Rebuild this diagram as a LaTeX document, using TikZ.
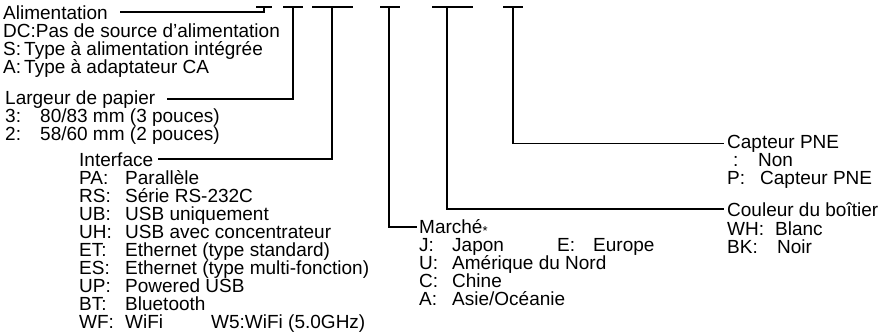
\documentclass[tikz,border=0pt]{standalone}
\usepackage{fontspec}
\setmainfont{Liberation Sans}
\usetikzlibrary{positioning}
\newcommand{\legfont}{\fontsize{19}{18}\selectfont}
\newcommand{\cd}[2]{\makebox[#1][l]{#2}}

\begin{document}
\begin{tikzpicture}[x=1pt, y=-1pt,
    lead/.style={line width=1.6pt},
    txt/.style={anchor=base west, inner sep=0pt, font=\legfont},
  ]
  \useasboundingbox (0,0) rectangle (886,335);

  % Brackets under the model code
  \foreach \a/\b in {256/272, 283/303, 312/353, 380/400, 432/473, 503/523}
    \draw[lead] (\a,7) -- (\b,7);
  \coordinate (alimbar) at (264,7);
  \coordinate (papbar) at (293,7);
  \coordinate (ifbar) at (332,7);
  \coordinate (mktbar) at (389,7);
  \coordinate (colbar) at (447,7);
  \coordinate (pnebar) at (513,7);

  % Alimentation
  \node[txt] (alim) at (3,19) {Alimentation};
  \node[txt] (alimdc) at (3,37) {DC:Pas de source d’alimentation};
  \node[txt] (alims) at (3,55) {\cd{21pt}{S:}Type à alimentation intégrée};
  \node[txt] (alima) at (3,73) {\cd{21pt}{A:}Type à adaptateur CA};

  % Largeur de papier
  \node[txt] (pap) at (5,104) {Largeur de papier};
  \node[txt] (pap3) at (5,122) {\cd{35pt}{3:}80/83 mm (3 pouces)};
  \node[txt] (pap2) at (5,140) {\cd{35pt}{2:}58/60 mm (2 pouces)};

  % Interface
  \node[txt] (iface) at (79,166) {Interface};
  \node[txt] (ifpa) at (79,184) {\cd{46pt}{PA:}Parallèle};
  \node[txt] (ifrs) at (79,202) {\cd{46pt}{RS:}Série RS-232C};
  \node[txt] (ifub) at (79,220) {\cd{46pt}{UB:}USB uniquement};
  \node[txt] (ifuh) at (79,238) {\cd{46pt}{UH:}USB avec concentrateur};
  \node[txt] (ifet) at (79,256) {\cd{46pt}{ET:}Ethernet (type standard)};
  \node[txt] (ifes) at (79,274) {\cd{46pt}{ES:}Ethernet (type multi-fonction)};
  \node[txt] (ifup) at (79,292) {\cd{46pt}{UP:}Powered USB};
  \node[txt] (ifbt) at (79,310) {\cd{46pt}{BT:}Bluetooth};
  \node[txt] (ifwf) at (79,328) {\cd{46pt}{WF:}\cd{86pt}{WiFi}W5:WiFi (5.0GHz)};

  % Marche
  \node[txt] (mkt) at (419,233) {Marché\raisebox{-2pt}{\fontsize{13}{13}\selectfont *}};
  \node[txt] (mktj) at (419,251) {\cd{33pt}{J:}\cd{105pt}{Japon}\cd{36pt}{E:}Europe};
  \node[txt] (mktu) at (419,269) {\cd{33pt}{U:}Amérique du Nord};
  \node[txt] (mktc) at (419,287) {\cd{33pt}{C:}Chine};
  \node[txt] (mkta) at (419,305) {\cd{33pt}{A:}Asie/Océanie};

  % Couleur du boitier
  \node[txt] (col) at (727,216) {Couleur du boîtier};
  \node[txt] (colwh) at (727,235) {\cd{48pt}{WH:}Blanc};
  \node[txt] (colbk) at (727,253) {\cd{50pt}{BK:}Noir};

  % Capteur PNE
  \node[txt] (pne) at (727,148) {Capteur PNE};
  \node[txt] (pnenon) at (727,166) {\cd{31pt}{\hspace{6pt}:}Non};
  \node[txt] (pnep) at (727,184) {\cd{33pt}{P:}Capteur PNE};

  % Leader lines
  \draw[lead] (alimbar) |- ([xshift=12pt]alim.east);
  \draw[lead] (papbar) |- ([xshift=12pt]pap.east);
  \draw[lead] (ifbar) |- ([xshift=5pt]iface.east);
  \draw[lead] (mktbar) |- ([xshift=-2pt]mkt.west);
  \draw[lead] (colbar) |- ([xshift=-3pt]col.west);
  \draw[lead] (pnebar) |- ([xshift=-3pt]pne.west);
\end{tikzpicture}
\end{document}
